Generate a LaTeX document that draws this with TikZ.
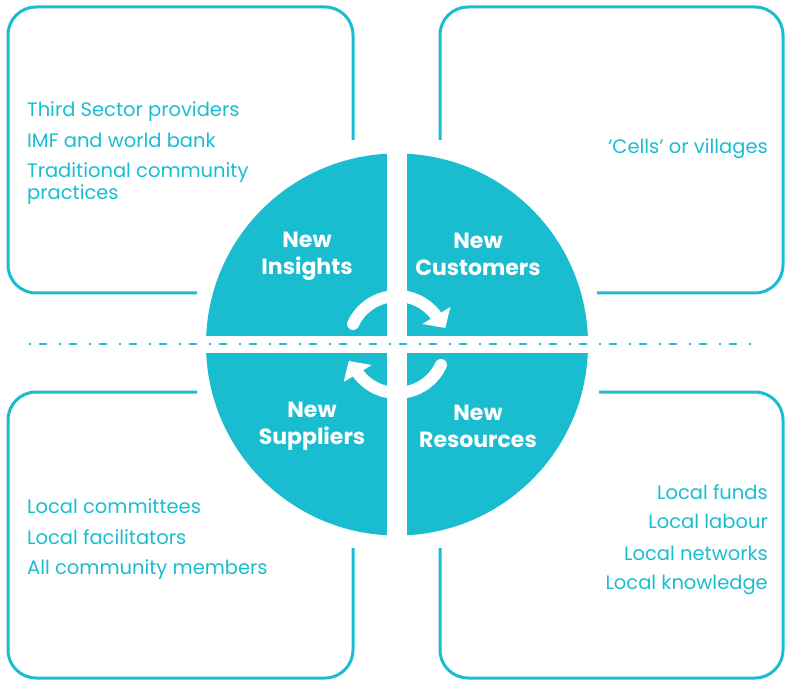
\documentclass[tikz,border=0pt]{standalone}
\usepackage{fontspec}
\setmainfont{Poppins}
\definecolor{tealc}{RGB}{26,189,208}
\tikzset{
  boxline/.style={draw=tealc, line width=3pt, rounded corners=28pt},
  itemtext/.style={text=tealc, font=\fontsize{19.5}{22}\selectfont, inner sep=0pt},
  quadtext/.style={text=white, font=\fontsize{22}{27}\selectfont\bfseries, align=center, inner sep=0pt},
  cyclearrow/.style={draw=white, line width=12pt, line cap=round}
}
\begin{document}
\begin{tikzpicture}[x=1pt, y=1pt]
    \useasboundingbox (0,0) rectangle (787,681);

    % the four open boxes
    \draw[boxline] (353,541) -- (353,674) -- (8,674) -- (8,388) -- (197,388);
    \draw[boxline] (440,541) -- (440,674) -- (783,674) -- (783,388) -- (597,388);
    \draw[boxline] (197,289) -- (8,289) -- (8,3) -- (353,3) -- (353,133);
    \draw[boxline] (599,289) -- (783,289) -- (783,3) -- (440,3) -- (440,133);

    % circle cut in four
    \fill[tealc] (397,336.5) circle[radius=191];
    \fill[white] (387,140) rectangle (407,533);
    \fill[white] (200,328) rectangle (594,345);

    \draw[tealc, line width=2.8pt, line cap=round,
      dash pattern=on 0pt off 10pt on 6pt off 14pt] (30,337) -- (755,337);

    % cycle arrows
    \foreach \rot in {0,180} {
      \begin{scope}[shift={(397,336.5)}, rotate=\rot]
        \draw[cyclearrow] (155:48.5) arc[start angle=155, end angle=37, radius=48.5];
        \fill[white] (35.1:65.2) -- (18.9:51) -- (39:32.6) -- cycle;
      \end{scope}
    }

    \def \Quads {
      insights/307/425/New\\Insights,
      customers/478/427/New\\Customers,
      suppliers/312/255/New\\Suppliers,
      resources/478/255/New\\Resources}
    \def \Items {
      tl1/27/564/west/Third Sector providers,
      tl2/27/533/west/IMF and world bank,
      tl3/27/503/west/Traditional community,
      tl4/27/481/west/practices,
      tr1/768/527/east/‘Cells’ or villages,
      bl1/27/168/west/Local committees,
      bl2/27/137/west/Local facilitators,
      bl3/27/107/west/All community members,
      br1/768/182/east/Local funds,
      br2/768/153/east/Local labour,
      br3/768/121/east/Local networks,
      br4/768/92/east/Local knowledge}

    \foreach \id / \x / \y / \txt in \Quads {
      \node[quadtext] (\id) at (\x, \y) {\txt};
    }
    \foreach \id / \x / \y / \side / \txt in \Items {
      \node[itemtext, anchor=base \side] (\id) at (\x, \y) {\txt};
    }
  \end{tikzpicture}
\end{document}
